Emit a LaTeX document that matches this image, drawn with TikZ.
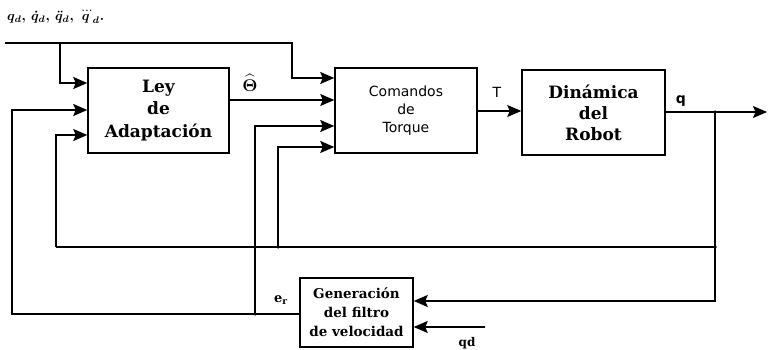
\documentclass[tikz,border=0pt]{standalone}
\usepackage{amsmath}
\usepackage{graphicx}
\usepackage{fontspec}
\newfontfamily\boxserif{DejaVu Serif}
\newfontfamily\boxsans{DejaVu Sans}
\usetikzlibrary{arrows.meta}
\begin{document}
\begin{tikzpicture}[x=1pt,y=-1pt,
  box/.style={draw, line width=1.5pt, inner sep=0pt, align=center},
  ln/.style={line width=1.7pt},
  thin/.style={line width=1.1pt},
  arr/.style={ln, -{Stealth[length=14pt,width=12pt,inset=2.5pt]}},
  tarr/.style={thin, -{Stealth[length=14pt,width=12pt,inset=2.5pt]}},
  jdot/.style={circle, fill, inner sep=0pt, minimum size=3.5pt},
  lbl/.style={inner sep=0pt}]
\useasboundingbox (0,0) rectangle (771,350);

% blocks
\node[box, minimum width=141pt, minimum height=85pt,
  font=\boxserif\bfseries\fontsize{17}{22.5}\selectfont] (ley) at (158.5,110.5) {Ley\\de\\Adaptación};
\node[box, minimum width=142pt, minimum height=85pt,
  font=\boxsans\fontsize{14}{18}\selectfont] (com) at (406,110.5) {Comandos\\de\\Torque};
\node[box, minimum width=143pt, minimum height=85pt,
  font=\boxserif\bfseries\fontsize{17}{21}\selectfont] (din) at (593.5,112.5) {Dinámica\\del\\Robot};
\node[box, minimum width=113pt, minimum height=69pt,
  font=\boxserif\bfseries\fontsize{13.5}{19}\selectfont] (gen) at (356.5,312.5) {Generación\\del filtro\\de velocidad};

% labels
\node[lbl, anchor=west] (qlist) at (7,17) {\scalebox{1.35}{\boldmath$q_d,\,\dot{q}_d,\,\ddot{q}_d,\,\dddot{q}_d.$}};
\node[lbl] (theta) at (250,83) {\scalebox{1.7}{\boldmath$\widehat{\Theta}$}};
\node[lbl, font=\boxsans\fontsize{14}{16}\selectfont] (tau) at (497,92) {T};
\node[lbl, font=\boxsans\bfseries\fontsize{14}{16}\selectfont] (qo) at (681,101) {q};
\node[lbl, font=\boxserif\bfseries\fontsize{13}{15}\selectfont] (er) at (281,300) {e\textsubscript{r}};
\node[lbl, font=\boxserif\bfseries\fontsize{12}{14}\selectfont] (qdl) at (467,343) {qd};

% coordinates
\coordinate (tl) at (5,43);
\coordinate (tb) at (60,43);
\coordinate (tr) at (292,43);
\coordinate (jq) at (715,112);
\coordinate (qend) at (767,112);
\coordinate (jfb) at (715,247);
\coordinate (lfb) at (56,247);
\coordinate (jc4) at (278,247);
\coordinate (jer) at (255,314);
\coordinate (lex) at (12,314);
\coordinate (qdin) at (485,327);

% connectors
\draw[arr] (tl) -- (tr) -- (tr |- 0,78) -- (com.west |- 0,78);
\draw[arr] (tb) -- (tb |- 0,83) -- (ley.west |- 0,83);
\draw[tarr] (ley.east |- 0,100) -- (com.west |- 0,100);
\draw[arr] (gen.west |- jer) -- (lex) -- (lex |- 0,110) -- (ley.west |- 0,110);
\draw[thin] (jfb) -- (lfb);
\draw[arr] (lfb) -- (lfb |- 0,135) -- (ley.west |- 0,135);
\draw[arr] (jer) -- (jer |- 0,126) -- (com.west |- 0,126);
\draw[arr] (jc4) -- (jc4 |- 0,147) -- (com.west |- 0,147);
\draw[tarr] (com.east |- 0,111) -- (din.west |- 0,111);
\draw[tarr] (din.east |- jq) -- (qend);
\draw[arr] (jq) -- (jq |- 0,301) -- (gen.east |- 0,301);
\draw[tarr] (qdin) -- (gen.east |- qdin);

% junction dots
\node[jdot] at (jq) {};
\node[jdot] at (jfb) {};
\node[jdot] at (jc4) {};
\node[jdot] at (jer) {};
\end{tikzpicture}
\end{document}
